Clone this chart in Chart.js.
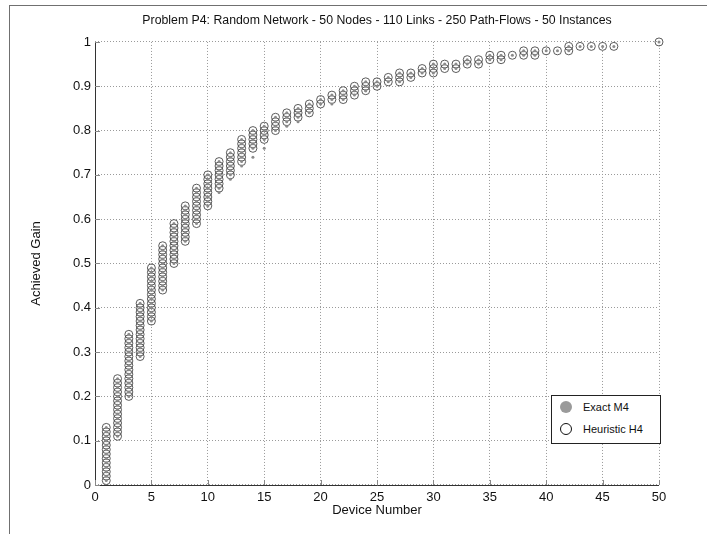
<!DOCTYPE html>
<html>
<head>
<meta charset="utf-8">
<script src="https://cdn.jsdelivr.net/npm/chart.js@4.4.0/dist/chart.umd.min.js"></script>
<style>
  body { margin: 0; background: #fff; }
  #wrap { position: relative; width: 707px; height: 534px; overflow: hidden; }
  #frame { position: absolute; left: 9px; top: 5px; right: 0; bottom: 0; border-top: 1px solid #707070; border-left: 1px solid #707070; pointer-events: none; }
  #legend { position: absolute; left: 551px; top: 395px; width: 108px; height: 47px; border: 1px solid #222; background: #fff;
            font: 11px 'Liberation Sans', Arial, sans-serif; color: #111; }
  #legend .row { position: absolute; left: 8px; display: flex; align-items: center; }
  #legend .mk { width: 12px; height: 12px; border-radius: 50%; margin-right: 11px; box-sizing: border-box; }
</style>
</head>
<body>
<div id="wrap">
  <canvas id="chart" width="707" height="534"></canvas>
  <div id="frame"></div>
  <div id="legend">
    <div class="row" style="top:5px"><span class="mk" style="background:#9a9a9a"></span>Exact M4</div>
    <div class="row" style="top:27px"><span class="mk" style="border:1px solid #111;background:#fff"></span>Heuristic H4</div>
  </div>
</div>
<script>
// device numbers on the x axis
const devices = [1,2,3,4,5,6,7,8,9,10,11,12,13,14,15,16,17,18,19,20,21,22,23,24,25,
                 26,27,28,29,30,31,32,33,34,35,36,37,38,39,40,41,42,43,44,45,46,47,48,49,50];

// achieved gain of the heuristic over the 50 instances, one list per device
const heuristicGain = [
  [0.01,0.02,0.03,0.04,0.05,0.06,0.07,0.08,0.09,0.10,0.11,0.12,0.13],
  [0.11,0.12,0.13,0.14,0.15,0.16,0.17,0.18,0.19,0.20,0.21,0.22,0.23,0.24],
  [0.20,0.21,0.22,0.23,0.24,0.25,0.26,0.27,0.28,0.29,0.30,0.31,0.32,0.33,0.34],
  [0.29,0.30,0.31,0.32,0.33,0.34,0.35,0.36,0.37,0.38,0.39,0.40,0.41],
  [0.37,0.38,0.39,0.40,0.41,0.42,0.43,0.44,0.45,0.46,0.47,0.48,0.49],
  [0.44,0.45,0.46,0.47,0.48,0.49,0.50,0.51,0.52,0.53,0.54],
  [0.50,0.51,0.52,0.53,0.54,0.55,0.56,0.57,0.58,0.59],
  [0.55,0.56,0.57,0.58,0.59,0.60,0.61,0.62,0.63],
  [0.59,0.60,0.61,0.62,0.63,0.64,0.65,0.66,0.67],
  [0.63,0.64,0.65,0.66,0.67,0.68,0.69,0.70],
  [0.67,0.68,0.69,0.70,0.71,0.72,0.73],
  [0.70,0.71,0.72,0.73,0.74,0.75],
  [0.73,0.74,0.75,0.76,0.77,0.78],
  [0.76,0.77,0.78,0.79,0.80],
  [0.78,0.79,0.80,0.81],
  [0.80,0.81,0.82,0.83],
  [0.82,0.83,0.84],
  [0.83,0.84,0.85],
  [0.84,0.85,0.86],
  [0.86,0.87],
  [0.87,0.88],
  [0.87,0.88,0.89],
  [0.88,0.89,0.90],
  [0.89,0.90,0.91],
  [0.90,0.91],
  [0.91,0.92],
  [0.91,0.92,0.93],
  [0.92,0.93],
  [0.93,0.94],
  [0.93,0.94,0.95],
  [0.94,0.95],
  [0.94,0.95],
  [0.95,0.96],
  [0.95,0.96],
  [0.96,0.97],
  [0.96,0.97],
  [0.97],
  [0.97,0.98],
  [0.97,0.98],
  [0.98],
  [0.98],
  [0.98,0.99],
  [0.99],
  [0.99],
  [0.99],
  [0.99],
  [],
  [],
  [],
  [1.00]
];

// exact solutions: they coincide with the heuristic except for these instances
const exactExtraDevice = [11, 12, 13, 14, 15, 17, 18, 21, 24];
const exactExtraGain   = [0.66, 0.69, 0.72, 0.74, 0.76, 0.81, 0.82, 0.86, 0.89];

const xTicks = [0,5,10,15,20,25,30,35,40,45,50];
const yTicks = [0,0.1,0.2,0.3,0.4,0.5,0.6,0.7,0.8,0.9,1];

const FONT = "'Liberation Sans', Arial, sans-serif";

const heuristicPts = [];
devices.forEach((d, i) => heuristicGain[i].forEach(g => heuristicPts.push({ x: d, y: g })));
const exactPts = heuristicPts.map(p => ({ x: p.x, y: p.y }));
exactExtraDevice.forEach((d, i) => exactPts.push({ x: d, y: exactExtraGain[i] }));

// solid left/bottom axis lines with short inward ticks
const axesPlugin = {
  id: 'matlabAxes',
  beforeDatasetsDraw(chart) {
    const { ctx, chartArea: a, scales: { x, y } } = chart;
    ctx.save();
    ctx.strokeStyle = '#333';
    ctx.lineWidth = 1;
    ctx.beginPath();
    ctx.moveTo(a.left + 0.5, a.top);
    ctx.lineTo(a.left + 0.5, a.bottom + 0.5);
    ctx.lineTo(a.right, a.bottom + 0.5);
    ctx.stroke();
    ctx.strokeStyle = '#888';
    ctx.beginPath();
    xTicks.forEach(v => {
      const px = Math.round(x.getPixelForValue(v)) + 0.5;
      ctx.moveTo(px, a.bottom); ctx.lineTo(px, a.bottom - 5);
    });
    yTicks.forEach(v => {
      const py = Math.round(y.getPixelForValue(v)) + 0.5;
      ctx.moveTo(a.left, py); ctx.lineTo(a.left + 5, py);
    });
    ctx.stroke();
    ctx.restore();
  }
};

new Chart(document.getElementById('chart'), {
  type: 'scatter',
  data: {
    datasets: [
      {
        label: 'Exact M4',
        data: exactPts,
        pointRadius: 1.5,
        pointBackgroundColor: '#8a8a8a',
        pointBorderWidth: 0,
        clip: false
      },
      {
        label: 'Heuristic H4',
        data: heuristicPts,
        pointRadius: 4,
        pointBackgroundColor: 'rgba(0,0,0,0)',
        pointBorderColor: '#4a4a4a',
        pointBorderWidth: 0.9,
        clip: false
      }
    ]
  },
  options: {
    responsive: false,
    animation: false,
    events: [],
    layout: { padding: { left: 0, right: 48, top: 0, bottom: 0 } },
    plugins: {
      legend: { display: false },
      tooltip: { enabled: false },
      title: {
        display: true,
        fullSize: false,
        text: 'Problem P4: Random Network - 50 Nodes - 110 Links - 250 Path-Flows - 50 Instances',
        color: '#111',
        font: { family: FONT, size: 12.3, weight: 'normal' },
        padding: { top: 13, bottom: 14.2 }
      }
    },
    scales: {
      x: {
        type: 'linear',
        min: 0, max: 50,
        afterBuildTicks: s => { s.ticks = xTicks.map(v => ({ value: v })); },
        afterFit: s => { s.height = 49; },
        grid: { color: '#9a9a9a', lineWidth: 1, drawTicks: false },
        border: { display: false, dash: [1, 2] },
        ticks: { color: '#111', padding: 5, font: { family: FONT, size: 13 }, callback: v => String(v) },
        title: { display: true, text: 'Device Number', color: '#111',
                 font: { family: FONT, size: 13 }, padding: { top: 0, bottom: 15.5 } }
      },
      y: {
        type: 'linear',
        min: 0, max: 1,
        afterBuildTicks: s => { s.ticks = yTicks.map(v => ({ value: v })); },
        afterFit: s => { s.width = 95; },
        grid: { color: '#9a9a9a', lineWidth: 1, drawTicks: false },
        border: { display: false, dash: [1, 2] },
        ticks: { color: '#111', padding: 4, font: { family: FONT, size: 13 }, callback: v => String(+v.toFixed(1)) },
        title: { display: true, text: 'Achieved Gain', color: '#111',
                 font: { family: FONT, size: 13 }, padding: { top: 29, bottom: 0 } }
      }
    }
  },
  plugins: [axesPlugin]
});
</script>
</body>
</html>
